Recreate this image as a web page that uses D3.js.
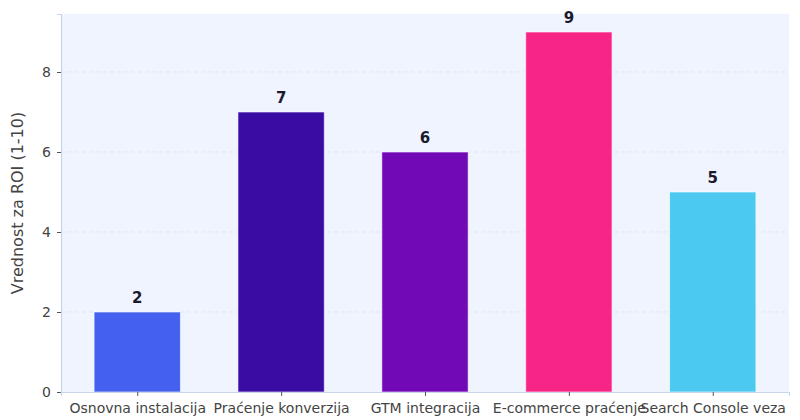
<!DOCTYPE html>
<html>
<head>
<meta charset="utf-8">
<script src="https://cdn.jsdelivr.net/npm/d3@7"></script>
<style>
  body { margin: 0; background: #fff; }
  svg { display: block; font-family: "DejaVu Sans", sans-serif; }
</style>
</head>
<body>
<div id="chart"></div>
<script>
// data
const categories = ["Osnovna instalacija", "Praćenje konverzija", "GTM integracija", "E-commerce praćenje", "Search Console veza"];
const values = [2, 7, 6, 9, 5];
const barColors = ["#4361EE", "#3A0CA3", "#7209B7", "#F72585", "#4CC9F0"];
const yTicks = [0, 2, 4, 6, 8];
const yLabel = "Vrednost za ROI (1-10)";

const width = 800, height = 420;
const margin = {top: 14, right: 11, bottom: 28, left: 61};
const innerW = width - margin.left - margin.right;
const innerH = height - margin.top - margin.bottom;

const svg = d3.select("#chart").append("svg")
    .attr("width", width)
    .attr("height", height);

const g = svg.append("g")
    .attr("transform", "translate(" + margin.left + "," + margin.top + ")");

// scales (index based, like matplotlib's bar positions)
const x = d3.scaleLinear()
    .domain([-0.53, categories.length - 1 + 0.53])
    .range([0, innerW]);
const barW = x(0.6) - x(0);

const y = d3.scaleLinear()
    .domain([0, d3.max(values) * 1.05])
    .range([innerH, 0]);

// plot background
g.append("rect")
    .attr("width", innerW)
    .attr("height", innerH)
    .attr("fill", "#F0F4FF");

// grid lines
g.selectAll(".grid")
    .data(yTicks.filter(d => d > 0))
    .enter().append("line")
    .attr("x1", 0).attr("x2", innerW)
    .attr("y1", d => y(d)).attr("y2", d => y(d))
    .attr("stroke", "#dfe5f3")
    .attr("stroke-dasharray", "4,3")
    .attr("stroke-width", 1);

// bars
g.selectAll(".bar")
    .data(values)
    .enter().append("rect")
    .attr("class", "bar")
    .attr("x", (d, i) => x(i) - barW / 2)
    .attr("y", d => y(d))
    .attr("width", barW)
    .attr("height", d => innerH - y(d))
    .attr("fill", (d, i) => barColors[i])
    .attr("stroke", "#ffffff")
    .attr("stroke-opacity", 0.6)
    .attr("stroke-width", 1);

// value labels
g.selectAll(".val")
    .data(values)
    .enter().append("text")
    .attr("x", (d, i) => x(i))
    .attr("y", d => y(d) - 9)
    .attr("text-anchor", "middle")
    .attr("font-size", "15px")
    .attr("font-weight", "bold")
    .attr("fill", "#1a1a2e")
    .text(d => d);

// y axis
const yAxis = g.append("g")
    .call(d3.axisLeft(y).tickValues(yTicks).tickSize(4).tickPadding(6).tickFormat(d3.format("d")));
yAxis.select(".domain").attr("stroke", "#c8d6ea").attr("stroke-width", 1.2);
yAxis.selectAll(".tick line").attr("stroke", "#555");
yAxis.selectAll(".tick text").attr("font-size", "14px").attr("fill", "#444").attr("font-family", "DejaVu Sans, sans-serif");

// x axis
const xAxis = g.append("g")
    .attr("transform", "translate(0," + innerH + ")")
    .call(d3.axisBottom(x).tickValues(d3.range(categories.length)).tickSize(4).tickPadding(7)
        .tickFormat(i => categories[i]));
xAxis.select(".domain").attr("stroke", "#c8d6ea").attr("stroke-width", 1.2);
xAxis.selectAll(".tick line").attr("stroke", "#555");
xAxis.selectAll(".tick text").attr("font-size", "14px").attr("fill", "#444").attr("font-family", "DejaVu Sans, sans-serif");

// y label
svg.append("text")
    .attr("transform", "translate(23," + (margin.top + innerH / 2) + ") rotate(-90)")
    .attr("text-anchor", "middle")
    .attr("font-size", "16px")
    .attr("fill", "#444")
    .text(yLabel);
</script>
</body>
</html>
